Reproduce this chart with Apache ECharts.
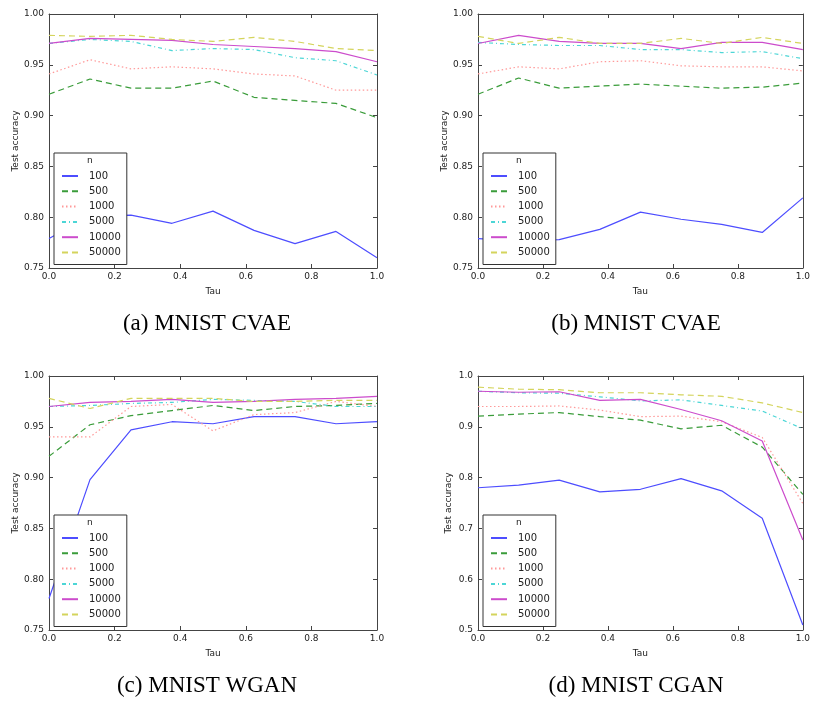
<!DOCTYPE html>
<html>
<head>
<meta charset="utf-8">
<script src="https://cdn.jsdelivr.net/npm/echarts@6/dist/echarts.min.js"></script>
<style>
  html, body { margin: 0; background: #fff; }
  #main { width: 813px; height: 707px; }
</style>
</head>
<body>
<div id="main"></div>
<script>
// x values (Tau) shared by all panels
var tau = [0, 0.125, 0.25, 0.375, 0.5, 0.625, 0.75, 0.875, 1.0];
// legend entries (n)
var sizes = ['100', '500', '1000', '5000', '10000', '50000'];

// (a) MNIST CVAE, one row per n
var accA = [
  [0.779, 0.801, 0.802, 0.794, 0.806, 0.787, 0.774, 0.786, 0.760],
  [0.921, 0.936, 0.927, 0.927, 0.934, 0.918, 0.915, 0.912, 0.898],
  [0.941, 0.955, 0.946, 0.948, 0.946, 0.941, 0.939, 0.925, 0.925],
  [0.971, 0.975, 0.973, 0.964, 0.966, 0.965, 0.957, 0.954, 0.940],
  [0.971, 0.976, 0.975, 0.974, 0.970, 0.968, 0.966, 0.963, 0.953],
  [0.979, 0.978, 0.979, 0.975, 0.973, 0.977, 0.973, 0.966, 0.964]
];
// (b) MNIST CVAE
var accB = [
  [0.779, 0.777, 0.778, 0.788, 0.805, 0.798, 0.793, 0.785, 0.819],
  [0.921, 0.937, 0.927, 0.929, 0.931, 0.929, 0.927, 0.928, 0.932],
  [0.941, 0.948, 0.946, 0.953, 0.954, 0.949, 0.948, 0.948, 0.944],
  [0.972, 0.970, 0.969, 0.969, 0.965, 0.965, 0.962, 0.963, 0.956],
  [0.971, 0.979, 0.973, 0.971, 0.971, 0.966, 0.972, 0.972, 0.965],
  [0.978, 0.971, 0.977, 0.971, 0.971, 0.976, 0.971, 0.977, 0.971]
];
// (c) MNIST WGAN
var accC = [
  [0.781, 0.898, 0.947, 0.955, 0.953, 0.960, 0.960, 0.953, 0.955],
  [0.921, 0.952, 0.961, 0.966, 0.971, 0.966, 0.970, 0.971, 0.973],
  [0.940, 0.940, 0.970, 0.972, 0.946, 0.962, 0.964, 0.975, 0.970],
  [0.970, 0.971, 0.973, 0.974, 0.977, 0.976, 0.975, 0.970, 0.970],
  [0.970, 0.974, 0.975, 0.977, 0.974, 0.975, 0.977, 0.978, 0.980],
  [0.978, 0.968, 0.978, 0.978, 0.978, 0.975, 0.975, 0.976, 0.976]
];
// (d) MNIST CGAN
var accD = [
  [0.780, 0.785, 0.795, 0.772, 0.777, 0.798, 0.774, 0.720, 0.510],
  [0.921, 0.925, 0.928, 0.920, 0.913, 0.896, 0.903, 0.860, 0.767],
  [0.940, 0.940, 0.941, 0.933, 0.920, 0.921, 0.910, 0.879, 0.749],
  [0.970, 0.967, 0.966, 0.959, 0.951, 0.953, 0.942, 0.931, 0.896],
  [0.970, 0.968, 0.969, 0.952, 0.954, 0.934, 0.912, 0.872, 0.677],
  [0.978, 0.974, 0.973, 0.967, 0.967, 0.963, 0.960, 0.947, 0.928]
];

var captions = ['(a) MNIST CVAE', '(b) MNIST CVAE', '(c) MNIST WGAN', '(d) MNIST CGAN'];
var yMin = [0.75, 0.75, 0.75, 0.5];
var yStep = [0.05, 0.05, 0.05, 0.1];
var yDigits = [2, 2, 2, 1];

var colors = ['#4d4dff', '#3a9c3a', '#ff9999', '#4cd6d6', '#cc4ccc', '#d4d45c'];
var dashes = ['solid', [6, 4], [1.5, 2.5], [4, 3, 1, 3], 'solid', [6, 4]];

var panels = [
  { left: 49, top: 14 },
  { left: 478, top: 14 },
  { left: 49, top: 376 },
  { left: 478, top: 376 }
];
var W = 328, H = 254;
var allData = [accA, accB, accC, accD];

var myChart = echarts.init(document.getElementById('main'));
var grid = [], xAxis = [], yAxis = [], series = [], legend = [], graphic = [];
var axisCol = '#444';

panels.forEach(function (p, i) {
  grid.push({ left: p.left, top: p.top, width: W, height: H, show: false });
  var tick = { show: true, inside: true, length: 4, lineStyle: { color: axisCol } };
  var line = { show: true, onZero: false, lineStyle: { color: axisCol, width: 1 } };
  // bottom x axis
  xAxis.push({
    type: 'value', gridIndex: i, min: 0, max: 1, interval: 0.2,
    name: 'Tau', nameLocation: 'middle', nameGap: 19,
    nameTextStyle: { fontSize: 9, color: '#222' },
    axisLine: line, axisTick: tick, splitLine: { show: false },
    axisLabel: { fontSize: 9, color: '#222', margin: 4, formatter: function (v) { return v.toFixed(1); } }
  });
  // top x axis (ticks only)
  xAxis.push({
    type: 'value', gridIndex: i, position: 'top', min: 0, max: 1, interval: 0.2,
    axisLine: line, axisTick: tick, splitLine: { show: false }, axisLabel: { show: false }
  });
  var d = yDigits[i];
  yAxis.push({
    type: 'value', gridIndex: i, min: yMin[i], max: 1, interval: yStep[i],
    name: 'Test accuracy', nameLocation: 'middle', nameGap: 25,
    nameTextStyle: { fontSize: 9, color: '#222' },
    axisLine: line, axisTick: tick, splitLine: { show: false },
    axisLabel: { fontSize: 9, color: '#222', margin: 5, formatter: function (v) { return v.toFixed(d); } }
  });
  // right y axis (ticks only)
  yAxis.push({
    type: 'value', gridIndex: i, position: 'right', min: yMin[i], max: 1, interval: yStep[i],
    axisLine: line, axisTick: tick, splitLine: { show: false }, axisLabel: { show: false }
  });

  allData[i].forEach(function (row, k) {
    series.push({
      name: sizes[k], type: 'line', xAxisIndex: i * 2, yAxisIndex: i * 2,
      symbol: 'none', animation: false,
      lineStyle: { color: colors[k], width: 1.2, type: dashes[k] },
      itemStyle: { color: colors[k] },
      data: row.map(function (v, j) { return [tau[j], v]; })
    });
  });

  legend.push({
    data: sizes, orient: 'vertical', left: p.left + 5, top: p.top + 139,
    borderColor: '#333', borderWidth: 1, backgroundColor: '#fff',
    padding: [17, 6, 6, 7], itemWidth: 16, itemHeight: 10, itemGap: 3.3,
    itemStyle: { opacity: 0 },
    textStyle: { fontSize: 10, color: '#222', lineHeight: 12, padding: [0, 0, 0, 6] }
  });
  graphic.push({
    type: 'text', left: p.left + 38, top: p.top + 142, z: 100,
    style: { text: 'n', fontSize: 9, fill: '#222', fontFamily: 'DejaVu Sans' }
  });
  graphic.push({
    type: 'text', z: 100,
    x: p.left + W / 2 - 6, top: p.top + 298,
    style: { text: captions[i], fontSize: 23, fill: '#000', fontFamily: 'Liberation Serif', textAlign: 'center' }
  });
});

var option = {
  textStyle: { fontFamily: 'DejaVu Sans' },
  animation: false,
  grid: grid,
  xAxis: xAxis,
  yAxis: yAxis,
  legend: legend,
  graphic: graphic,
  series: series
};
option && myChart.setOption(option);
</script>
</body>
</html>
